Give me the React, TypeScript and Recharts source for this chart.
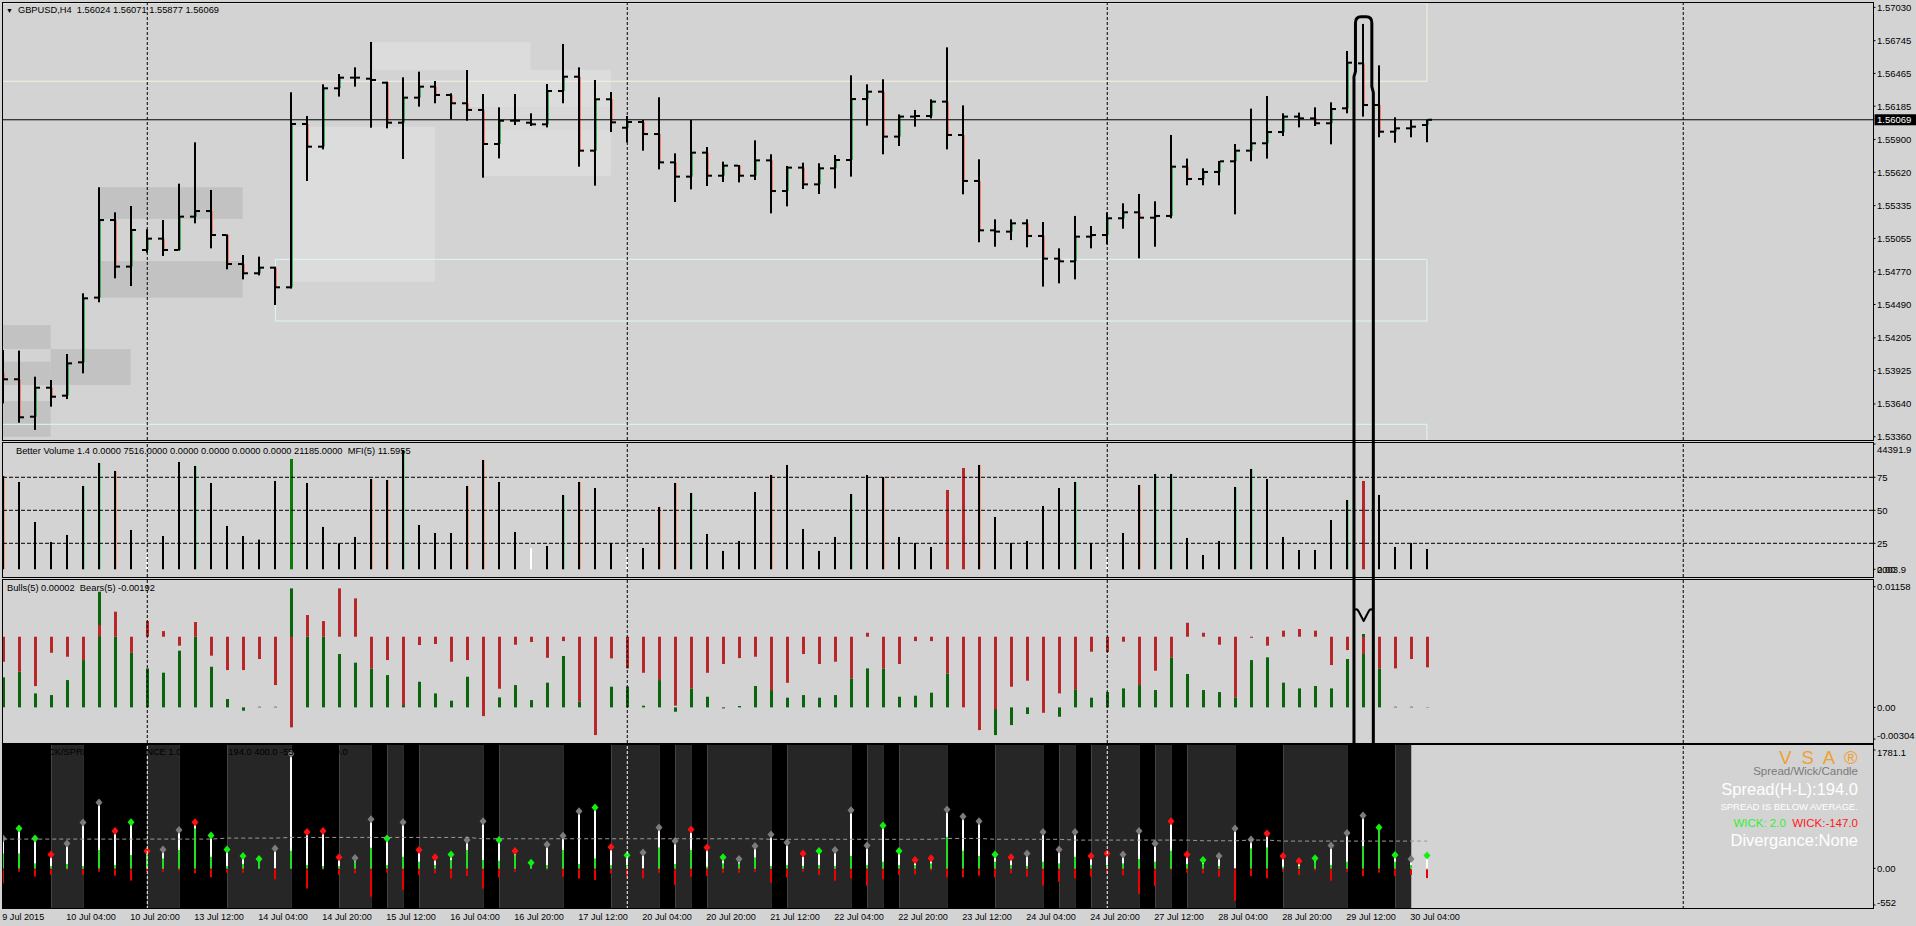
import React from 'react';
import { ComposedChart, Bar, Line, XAxis, YAxis, ReferenceLine, ReferenceArea } from 'recharts';

const FONT = "'Liberation Sans', Arial, sans-serif";
const BG = '#d3d3d3';

// ---------------- price (H4 bars) ----------------
const opens = [
  1.53902, 1.53851, 1.53531, 1.53779, 1.53711, 1.53996, 1.54549, 1.55212, 1.54814, 1.54956,
  1.55053, 1.54956, 1.55241, 1.55289, 1.55084, 1.54836, 1.54757, 1.54805, 1.54637, 1.56033,
  1.55839, 1.56338, 1.56429, 1.5642, 1.56386, 1.56044, 1.56258, 1.56352, 1.56281, 1.5621,
  1.56153, 1.55862, 1.56061, 1.56044, 1.5603, 1.56315, 1.56437, 1.55805, 1.56244, 1.56001,
  1.5605, 1.55947, 1.55705, 1.55583, 1.55788, 1.55591, 1.55677, 1.55591, 1.55722, 1.5546,
  1.5566, 1.55517, 1.55654, 1.55725, 1.56246, 1.56309, 1.55925, 1.56096, 1.56101, 1.56224,
  1.55939, 1.55546, 1.55124, 1.55113, 1.55184, 1.55076, 1.54882, 1.54859, 1.5507, 1.55084,
  1.55227, 1.55278, 1.55232, 1.55247, 1.55668, 1.55563, 1.55623, 1.55714, 1.55805, 1.55868,
  1.55964, 1.56096, 1.56081, 1.56039, 1.56167, 1.56551, 1.56195, 1.55967, 1.55996, 1.56024,
];
const highs = [
  1.54101, 1.54096, 1.53873, 1.53845, 1.54067, 1.54586, 1.55492, 1.55278, 1.55332, 1.55133,
  1.55212, 1.55523, 1.55876, 1.55469, 1.5509, 1.54913, 1.54899, 1.54814, 1.56304, 1.56101,
  1.56372, 1.5646, 1.56517, 1.56734, 1.56395, 1.56432, 1.5648, 1.564, 1.56295, 1.56494,
  1.56289, 1.56175, 1.56289, 1.56124, 1.56375, 1.56717, 1.56517, 1.56409, 1.56306, 1.56101,
  1.56067, 1.56261, 1.55782, 1.56067, 1.55836, 1.55711, 1.55682, 1.55893, 1.55774, 1.55674,
  1.55702, 1.55697, 1.55768, 1.56449, 1.56372, 1.56415, 1.56115, 1.56153, 1.56244, 1.56688,
  1.56192, 1.55731, 1.55218, 1.55218, 1.55218, 1.55195, 1.5497, 1.55247, 1.55161, 1.55278,
  1.55355, 1.55435, 1.55372, 1.55939, 1.55737, 1.55654, 1.55717, 1.55862, 1.56164, 1.56272,
  1.56124, 1.5613, 1.56175, 1.56218, 1.56657, 1.56888, 1.56534, 1.5609, 1.56067, 1.56071,
];
const lows = [
  1.53645, 1.5348, 1.53418, 1.53617, 1.53682, 1.53902, 1.54509, 1.54714, 1.54648, 1.54933,
  1.54905, 1.5495, 1.55184, 1.5497, 1.54791, 1.54705, 1.54739, 1.54486, 1.54626, 1.55546,
  1.55816, 1.56267, 1.56352, 1.56001, 1.55996, 1.55734, 1.56181, 1.5621, 1.56073, 1.56061,
  1.55574, 1.55739, 1.56024, 1.56016, 1.56004, 1.5621, 1.55668, 1.55506, 1.55964, 1.55876,
  1.55805, 1.55645, 1.55366, 1.55474, 1.55503, 1.55537, 1.55534, 1.55554, 1.55269, 1.55329,
  1.55477, 1.55435, 1.55483, 1.55583, 1.56019, 1.55774, 1.55845, 1.5601, 1.56081, 1.55816,
  1.55432, 1.55022, 1.54984, 1.55041, 1.54979, 1.54643, 1.54671, 1.54705, 1.5497, 1.55004,
  1.55138, 1.54885, 1.54984, 1.55227, 1.55509, 1.55509, 1.55509, 1.55261, 1.55714, 1.55737,
  1.5593, 1.56004, 1.56016, 1.55859, 1.56124, 1.56096, 1.55919, 1.55873, 1.55919, 1.55877,
];
const closes = [
  1.53851, 1.53526, 1.53779, 1.53702, 1.53987, 1.54543, 1.55212, 1.54814, 1.55127, 1.55053,
  1.54956, 1.55241, 1.55289, 1.55084, 1.54836, 1.54757, 1.54805, 1.54637, 1.56033, 1.55839,
  1.56338, 1.56429, 1.56429, 1.56409, 1.56044, 1.56258, 1.56352, 1.56281, 1.5621, 1.56153,
  1.55862, 1.56061, 1.56061, 1.5603, 1.56315, 1.56437, 1.55805, 1.56244, 1.56047, 1.5605,
  1.55947, 1.55705, 1.55583, 1.55788, 1.55591, 1.55677, 1.55591, 1.55722, 1.5546, 1.5566,
  1.55517, 1.55654, 1.55725, 1.56246, 1.56309, 1.55925, 1.56096, 1.56101, 1.56224, 1.55939,
  1.55546, 1.55124, 1.55113, 1.55184, 1.55076, 1.54882, 1.54859, 1.5507, 1.55084, 1.55227,
  1.55278, 1.55232, 1.55247, 1.55668, 1.55563, 1.55623, 1.55714, 1.55805, 1.55868, 1.55964,
  1.56096, 1.56081, 1.56039, 1.56161, 1.56557, 1.56195, 1.55967, 1.55996, 1.5601, 1.56069,
];
const priceTicks = [1.5703, 1.56745, 1.56465, 1.56185, 1.559, 1.5562, 1.55335, 1.55055, 1.5477, 1.5449, 1.54205, 1.53925, 1.5364, 1.5336];
const lastPrice = 1.56069;
const priceHeader = 'GBPUSD,H4  1.56024 1.56071 1.55877 1.56069';

// zones drawn on the price chart (bar index / price)
const zones = [
  { x1: 23.09, x2: 32.96, y1: 1.56494, y2: 1.56731, kind: 'light' },
  { x1: 28.86, x2: 37.98, y1: 1.56175, y2: 1.56494, kind: 'light' },
  { x1: 30.0, x2: 37.98, y1: 1.55981, y2: 1.56175, kind: 'faint' },
  { x1: 30.0, x2: 37.98, y1: 1.55591, y2: 1.55981, kind: 'light' },
  { x1: 18.03, x2: 26.98, y1: 1.54685, y2: 1.5601, kind: 'light' },
  { x1: 6.04, x2: 14.96, y1: 1.55221, y2: 1.55492, kind: 'dark' },
  { x1: 6.04, x2: 14.96, y1: 1.54548, y2: 1.54862, kind: 'dark' },
  { x1: -0.08, x2: 2.96, y1: 1.5411, y2: 1.54315, kind: 'dark' },
  { x1: 2.96, x2: 7.96, y1: 1.53802, y2: 1.5411, kind: 'dark' },
  { x1: -0.08, x2: 2.96, y1: 1.53802, y2: 1.54001, kind: 'dark' },
  { x1: -0.08, x2: 2.96, y1: 1.5336, y2: 1.53665, kind: 'dark' },
  { x1: -0.08, x2: 88.98, y1: 1.56398, y2: 1.57067, kind: 'cream' },
  { x1: 17.01, x2: 88.98, y1: 1.54349, y2: 1.54876, kind: 'cyan' },
  { x1: -0.08, x2: 88.98, y1: 1.532, y2: 1.53466, kind: 'cyan' },
];
const markBars = [84.42, 85.63];
const markTopPrice = 1.5695;
const markVRange = [0.00829, 0.00944];

// ---------------- Better Volume ----------------
const volumes = [
  33580, 31550, 18017, 11251, 13619, 30197, 37978, 35271, 15311, 7417,
  13281, 38316, 36963, 31211, 16664, 13281, 12041, 31888, 39331, 31211,
  16326, 10800, 12943, 32565, 32226, 42376, 17002, 14296, 14296, 30197,
  38993, 31550, 14634, 9109, 9898, 27152, 31550, 29520, 10913, 7191,
  9221, 23092, 31211, 27828, 13958, 8206, 11589, 28167, 33918, 37301,
  15649, 8206, 12943, 27490, 33918, 33241, 12943, 10913, 9560, 28843,
  36286, 37301, 19709, 10913, 11589, 23430, 29520, 31550, 10913, 6402,
  14296, 30535, 34256, 34256, 12604, 6853, 11589, 29858, 35948, 32565,
  12943, 8545, 8545, 18694, 25460, 31888, 27152, 9560, 10913, 8883,
];
const volumeKinds = [
  'ks', 'k', 'k', 'k', 'k', 'kg', 'kg', 'ks', 'k', 'w',
  'k', 'k', 'kg', 'k', 'k', 'k', 'k', 'k', 'g', 'k',
  'k', 'k', 'k', 'ks', 'ks', 'kg', 'k', 'k', 'k', 'ks',
  'ks', 'k', 'k', 'w', 'k', 'kg', 'ks', 'k', 'k', 'w',
  'k', 'ks', 'ks', 'kg', 'k', 'k', 'k', 'k', 'ks', 'k',
  'k', 'k', 'k', 'kg', 'k', 'ks', 'k', 'k', 'k', 'r',
  'r', 'ks', 'k', 'k', 'k', 'k', 'k', 'kg', 'k', 'w',
  'k', 'ks', 'kg', 'kg', 'k', 'k', 'k', 'kg', 'kg', 'k',
  'k', 'k', 'k', 'k', 'kg', 'r', 'k', 'k', 'k', 'k',
];
const volFloor = 2003.9;
const volCeil = 44391.9;
const mfiLevels = [25, 50, 75];
const volumeHeader = 'Better Volume 1.4 0.0000 7516.0000 0.0000 0.0000 0.0000 0.0000 21185.0000  MFI(5) 11.5955';

// ---------------- Bulls / Bears ----------------
const bulls = [
  0.00288, 0.00342, 0.00134, 0.00118, 0.00262, 0.00454, 0.0111, 0.00678, 0.00525, 0.00374,
  0.00333, 0.00544, 0.00678, 0.0039, 0.0008, -0.00032, 0.00006, 0.00006, 0.01142, 0.00678,
  0.00678, 0.00512, 0.00429, 0.00374, 0.0031, 0.00022, 0.00246, 0.00134, 0.00064, 0.00294,
  0.0, 0.00096, 0.00214, 0.0007, 0.00237, 0.00493, 0.00054, 0.0, 0.00198, 0.002,
  0.00016, 0.00262, -0.00042, 0.00182, 0.00102, -0.0001, 0.00013, 0.00205, 0.00166, 0.00093,
  0.00118, 0.00093, 0.00118, 0.00278, 0.00374, 0.00374, 0.00102, 0.00112, 0.00141, 0.00326,
  0.0, 0.0, -0.00266, -0.0017, -0.00064, 0.0, -0.0009, 0.00173, 0.00093, 0.00147,
  0.00182, 0.00214, 0.00166, 0.0048, 0.0032, 0.00166, 0.00147, 0.00096, 0.00454, 0.0048,
  0.00237, 0.00182, 0.00205, 0.00182, 0.00464, 0.00704, 0.00374, 0.00006, 0.00006, -0.00003,
];
const bears = [
  -0.0024, -0.00336, -0.00474, -0.00154, -0.00192, -0.00224, 0.00112, 0.0024, -0.00154, 0.0015,
  0.00054, -0.00086, 0.00141, -0.00182, -0.0032, -0.0032, -0.00214, -0.00464, -0.0087, 0.00208,
  0.0015, 0.00464, 0.00368, -0.00304, -0.00224, -0.00656, -0.0008, -0.0007, -0.0024, -0.00224,
  -0.00762, -0.00499, -0.00077, -0.00051, -0.00202, -0.00042, -0.00624, -0.00944, -0.00208, -0.00304,
  -0.00346, -0.00416, -0.00662, -0.00496, -0.00346, -0.00262, -0.00205, -0.00192, -0.00512, -0.00442,
  -0.00166, -0.00262, -0.0024, -0.004, 0.00038, -0.00304, -0.00262, -0.00042, -0.00042, -0.00352,
  -0.00678, -0.00896, -0.00698, -0.0048, -0.00422, -0.0073, -0.00544, -0.00506, -0.00144, -0.00147,
  -0.00048, -0.00464, -0.00326, -0.00198, 0.00134, 0.00038, -0.00077, -0.00582, -0.0001, -0.00086,
  0.00058, 0.00074, 0.00058, -0.00272, -0.00128, -0.00166, -0.00304, -0.00304, -0.00214, -0.00294,
];
const bearsBase = 0.00678;
const bullsTicks = [0.01158, 0, -0.00304];
const bullsHeader = 'Bulls(5) 0.00002  Bears(5) -0.00192';

// ---------------- VSA spread / wick ----------------
const spreads = [
  450, 600, 450, 210, 375, 690, 990, 560, 695, 260,
  285, 575, 695, 495, 285, 185, 140, 300, 1725, 545,
  560, 165, 155, 740, 450, 695, 275, 165, 210, 425,
  710, 425, 260, 85, 360, 490, 860, 915, 320, 195,
  240, 615, 410, 585, 315, 165, 140, 335, 510, 390,
  225, 260, 275, 875, 345, 645, 260, 125, 150, 885,
  780, 710, 210, 165, 225, 545, 285, 545, 185, 225,
  210, 560, 375, 710, 210, 125, 185, 600, 435, 525,
  185, 110, 150, 345, 530, 795, 615, 200, 140, 194,
];
const wickUp = [
  225, 225, 75, 35, 65, 35, 275, 50, 200, 200,
  150, 275, 600, 175, 35, 65, 100, 0, 265, 50,
  35, 35, 100, 310, 50, 175, 100, 50, 125, 275,
  125, 115, 200, 50, 50, 275, 65, 150, 50, 50,
  0, 315, 65, 275, 25, 75, 75, 165, 35, 50,
  35, 50, 35, 185, 50, 100, 50, 50, 75, 475,
  265, 185, 100, 50, 35, 100, 75, 175, 50, 50,
  75, 140, 100, 265, 65, 65, 35, 0, 300, 315,
  25, 35, 100, 50, 100, 335, 575, 100, 50, 2,
];
const wickDown = [
  -225, -50, -125, -100, -25, -100, -50, -110, -185, -50,
  -50, -35, -75, -135, -65, -65, -15, -165, -15, -305,
  -25, -100, -75, -425, -65, -325, -100, -75, -150, -115,
  -305, -135, -50, 0, -25, -125, -155, -175, -75, -125,
  -150, -65, -250, -125, -115, -65, -65, -50, -215, -135,
  -50, -100, -185, -150, -260, -165, -100, -90, -35, -135,
  -135, -110, -135, -75, -125, -260, -200, -150, -125, -75,
  -105, -385, -265, -25, -65, -75, -125, -485, -115, -150,
  -50, -100, -35, -185, -50, -115, -65, -115, -100, -147,
];
const diamondColors = [
  'n', 'g', 'g', 'r', 'n', 'n', 'n', 'r', 'g', 'r',
  'n', 'n', 'r', 'g', 'g', 'g', 'g', 'n', 'n', 'r',
  'r', 'r', 'n', 'n', 'g', 'n', 'r', 'r', 'g', 'n',
  'n', 'g', 'r', 'g', 'n', 'n', 'n', 'g', 'r', 'g',
  'n', 'n', 'n', 'r', 'r', 'g', 'n', 'n', 'n', 'n',
  'r', 'g', 'n', 'n', 'n', 'g', 'g', 'r', 'r', 'n',
  'n', 'n', 'g', 'r', 'n', 'n', 'n', 'n', 'r', 'r',
  'n', 'n', 'n', 'r', 'r', 'g', 'n', 'n', 'n', 'r',
  'r', 'r', 'g', 'n', 'n', 'n', 'g', 'g', 'n', 'g',
];
const avgSpread = [
  440, 440, 440, 440, 440, 440, 440, 440, 440, 440,
  440, 440, 440, 440, 455, 455, 455, 455, 465, 465,
  465, 465, 465, 465, 465, 465, 465, 465, 465, 465,
  445, 445, 445, 445, 445, 445, 445, 445, 445, 445,
  445, 445, 445, 445, 445, 445, 445, 445, 437, 437,
  437, 437, 437, 437, 437, 437, 437, 437, 437, 450,
  450, 450, 437, 437, 437, 437, 437, 425, 425, 425,
  425, 425, 425, 425, 425, 415, 415, 415, 425, 425,
  410, 410, 410, 410, 410, 410, 410, 410, 410, 410,
];
const vsaBandEdges = [-0.08, 3, 5, 9, 11, 14, 18, 21, 23, 24, 25, 26, 30, 31, 35, 38, 41, 42, 43, 44, 48, 49, 53, 54, 55, 56, 59, 62, 65, 66, 67, 68, 71, 72, 73, 74, 77, 80, 84, 87, 88];
const vsaTicks = [1781.1, 0, -552];
const vsaHeader = 'VSA WICK/SPREAD DIVERGENCE 1.0 2.0 -147.0 194.0 400.0 -552.0 0.0 159.0';

// ---------------- time axis ----------------
const dateTickBars = [0, 4, 8, 12, 16, 20, 24, 28, 32, 36, 40, 44, 48, 52, 56, 60, 64, 68, 72, 76, 80, 84, 88];
const dateLabels = [
  '9 Jul 2015', '10 Jul 04:00', '10 Jul 20:00', '13 Jul 12:00', '14 Jul 04:00', '14 Jul 20:00',
  '15 Jul 12:00', '16 Jul 04:00', '16 Jul 20:00', '17 Jul 12:00', '20 Jul 04:00', '20 Jul 20:00',
  '21 Jul 12:00', '22 Jul 04:00', '22 Jul 20:00', '23 Jul 12:00', '24 Jul 04:00', '24 Jul 20:00',
  '27 Jul 12:00', '28 Jul 04:00', '28 Jul 20:00', '29 Jul 12:00', '30 Jul 04:00',
];
const gridBars = [9, 39, 69, 105];

const X_DOMAIN: [number, number] = [-0.08, 116.86];

const rows = opens.map((o, i) => {
  const bb = bearsBase + bears[i];
  return {
    i,
    ohlc: [lows[i], highs[i]],
    o, h: highs[i], l: lows[i], c: closes[i],
    vol: [volFloor, volumes[i]],
    vk: volumeKinds[i],
    bb: [Math.min(0, bulls[i], bearsBase, bb), Math.max(0, bulls[i], bearsBase, bb)],
    bull: bulls[i], bear: bb,
    vsa: [wickDown[i], spreads[i]],
    sp: spreads[i], up: wickUp[i], dn: wickDown[i],
    dc: diamondColors[i],
    avg: avgSpread[i],
  };
});

// ---------------- shapes ----------------
const span = (p: any) => {
  const top = Math.min(p.y, p.y + p.height);
  const bot = Math.max(p.y, p.y + p.height);
  return { top, bot, cx: Math.round(p.x + p.width / 2) };
};

const OhlcShape = (p: any) => {
  if (p.x == null || !p.payload) return null;
  const { top, bot, cx } = span(p);
  const d = p.payload;
  const yOf = (v: number) => top + ((d.h - v) / (d.h - d.l)) * (bot - top);
  const yo = yOf(d.o);
  const yc = yOf(d.c);
  const body = d.c >= d.o ? '#3cae5c' : '#f5806c';
  return (
    <g>
      <rect x={cx - 1} y={top} width={2} height={Math.max(1, bot - top)} fill="#000" />
      <rect x={cx + 1} y={Math.min(yo, yc)} width={1} height={Math.abs(yc - yo)} fill={body} />
      <rect x={cx - 5} y={yo - 1} width={4} height={2} fill="#000" />
      <rect x={cx + 1} y={yc - 1} width={4} height={2} fill="#000" />
    </g>
  );
};

const VolShape = (p: any) => {
  if (p.x == null || !p.payload) return null;
  const { top, bot, cx } = span(p);
  const h = bot - top;
  const k = p.payload.vk;
  if (k === 'g') return <rect x={cx - 1} y={top} width={3} height={h} fill="#0b7a0b" />;
  if (k === 'r') return <rect x={cx - 1} y={top} width={3} height={h} fill="#b8262a" />;
  if (k === 'w') return <rect x={cx - 1} y={top} width={2} height={h} fill="#ffffff" />;
  return (
    <g>
      <rect x={cx - 1} y={top} width={2} height={h} fill="#000" />
      {k === 'ks' && <rect x={cx + 1} y={top} width={1} height={h} fill="#f4a07e" />}
      {k === 'kg' && <rect x={cx + 1} y={top} width={1} height={h} fill="#7fd69a" />}
    </g>
  );
};

const BullsShape = (p: any) => {
  if (p.x == null || !p.payload) return null;
  const { top, bot, cx } = span(p);
  const d = p.payload;
  const lo = d.bb[0];
  const hi = d.bb[1];
  const yOf = (v: number) => (hi === lo ? top : top + ((hi - v) / (hi - lo)) * (bot - top));
  const g0 = yOf(0), g1 = yOf(d.bull);
  const r0 = yOf(bearsBase), r1 = yOf(d.bear);
  return (
    <g>
      <rect x={cx - 1} y={Math.min(g0, g1)} width={3} height={Math.abs(g1 - g0)} fill="#0a650a" />
      <rect x={cx - 1} y={Math.min(r0, r1)} width={3} height={Math.abs(r1 - r0)} fill="#b8262a" />
    </g>
  );
};

const DIAMOND: Record<string, string> = { g: '#12f012', r: '#ff1010', n: '#7c7c7c' };
const VsaShape = (p: any) => {
  if (p.x == null || !p.payload) return null;
  const { top, bot, cx } = span(p);
  const d = p.payload;
  const yOf = (v: number) => top + ((d.sp - v) / (d.sp - d.dn)) * (bot - top);
  const y0 = yOf(0), yu = yOf(d.up), yd = yOf(d.dn);
  return (
    <g>
      <rect x={cx - 1} y={top} width={2} height={y0 - top} fill="#ffffff" />
      <rect x={cx - 1} y={yu} width={2} height={y0 - yu} fill="#22dd22" />
      <rect x={cx - 1} y={y0 + 1} width={2} height={Math.max(0, yd - y0 - 1)} fill="#ee0000" />
      <polygon points={`${cx},${top - 4} ${cx + 3.5},${top} ${cx},${top + 4} ${cx - 3.5},${top}`} fill={DIAMOND[d.dc]} />
    </g>
  );
};

const MarkMain = (p: any) => {
  const L = p.x, R = p.x + p.width, T = p.y, B = p.y + p.height + 4;
  const d = `M${L},${B} L${L},${T + 60} L${L + 1.5},${T + 55} L${L + 1.5},${T + 6} Q${L + 1.5},${T} ${L + 7},${T} L${R - 7},${T} Q${R - 1.5},${T} ${R - 1.5},${T + 6} L${R - 1.5},${T + 70} L${R},${T + 76} L${R},${B}`;
  return <path d={d} fill="none" stroke="#000" strokeWidth={3} strokeLinejoin="round" />;
};
const MarkLines = (p: any) => {
  const L = p.x, R = p.x + p.width, T = p.y - 4, B = p.y + p.height + 4;
  return <path d={`M${L},${T} L${L},${B} M${R},${T} L${R},${B}`} fill="none" stroke="#000" strokeWidth={3} />;
};
const MarkV = (p: any) => {
  const L = p.x + 2, R = p.x + p.width - 2, cx = p.x + p.width / 2, T = p.y, B = p.y + p.height;
  const d = `M${L - 1},${T + 1} Q${L + 1},${T - 1} ${L + 3},${T + 3} L${cx},${B} L${R - 3},${T + 3} Q${R - 1},${T - 1} ${R + 1},${T + 1}`;
  return <path d={d} fill="none" stroke="#000" strokeWidth={2} strokeLinejoin="round" />;
};

// ---------------- axis pieces ----------------
const makeTick = (fmt: (v: number) => string, nudge: (v: number) => number = () => 0) => (props: any) => {
  const { x, y, payload } = props;
  const v = payload.value;
  return (
    <g>
      <line x1={x} x2={x + 2.5} y1={y} y2={y} stroke="#000" />
      <text x={x + 4} y={y + nudge(v)} dy="0.35em" fontSize={9.5} fontFamily={FONT} fill="#000">{fmt(v)}</text>
    </g>
  );
};
const priceTick = makeTick((v) => v.toFixed(5));
const mfiTick = makeTick((v) => String(v));
const bullsTick = makeTick((v) => (v === 0 ? '0.00' : v.toFixed(5)), (v) => (v < 0 ? -3.5 : 0));
const vsaTick = makeTick((v) => (v === 0 ? '0.00' : v < 0 ? String(v) : v.toFixed(1)), (v) => (v > 0 ? 2.7 : v < 0 ? -2.3 : 0));

const SideLabel = (props: any) => {
  const vb = props.viewBox;
  if (!vb) return null;
  const x = vb.x + vb.width;
  const texts: string[] = props.texts;
  return (
    <g>
      <line x1={x} x2={x + 2.5} y1={vb.y} y2={vb.y} stroke="#000" />
      {texts.map((t) => (
        <text key={t} x={x + 4} y={vb.y + props.dy} dy="0.35em" fontSize={9.5} fontFamily={FONT} fill="#000">{t}</text>
      ))}
    </g>
  );
};

const PriceTag = (props: any) => {
  const vb = props.viewBox;
  if (!vb) return null;
  const x = vb.x + vb.width + 1.5;
  return (
    <g>
      <rect x={x} y={vb.y - 5.5} width={42} height={11} fill="#000" />
      <text x={x + 2.5} y={vb.y} dy="0.35em" fontSize={9.5} fontFamily={FONT} fill="#fff">{lastPrice.toFixed(5)}</text>
    </g>
  );
};

const DateTick = (props: any) => {
  const { x, y, payload } = props;
  const k = dateTickBars.indexOf(payload.value);
  return (
    <text x={x - 1} y={y + 8} dy="0.35em" fontSize={9.1} fontFamily={FONT} fill="#000">{dateLabels[k]}</text>
  );
};

const zoneStyle = (kind: string) => {
  if (kind === 'light') return { fill: '#dcdcdc', fillOpacity: 1, stroke: 'none' };
  if (kind === 'faint') return { fill: '#d8d8d8', fillOpacity: 1, stroke: 'none' };
  if (kind === 'dark') return { fill: '#c2c2c2', fillOpacity: 1, stroke: 'none' };
  if (kind === 'cream') return { fill: 'none', fillOpacity: 0, stroke: '#f6f1e2' };
  return { fill: 'none', fillOpacity: 0, stroke: '#dff7f7' };
};

const frame = (top: number, height: number) => (
  <div style={{ position: 'absolute', left: 2, top, width: 1872, height, border: '1px solid #000', boxSizing: 'border-box', pointerEvents: 'none' }} />
);

const textStyle = (left: number, top: number, size: number, color = '#000'): React.CSSProperties => ({
  position: 'absolute', left, top, fontSize: size, lineHeight: `${Math.round(size + 2)}px`, color, whiteSpace: 'pre', fontFamily: FONT,
});
const rightText = (right: number, top: number, size: number, color: string, extra: React.CSSProperties = {}): React.CSSProperties => ({
  position: 'absolute', right, top, fontSize: size, lineHeight: `${Math.round(size + 2)}px`, color, whiteSpace: 'pre', fontFamily: FONT, textAlign: 'right', ...extra,
});

export default function App() {
  return (
    <div style={{ position: 'absolute', left: 0, top: 0, width: 1916, height: 926, background: BG, overflow: 'hidden', fontFamily: FONT }}>
      {/* price */}
      <div style={{ position: 'absolute', left: 0, top: 0 }}>
        <ComposedChart width={1916} height={441} data={rows} margin={{ top: 3, right: 0, bottom: 1, left: 2 }}>
          <XAxis dataKey="i" type="number" domain={X_DOMAIN} allowDataOverflow hide />
          <YAxis orientation="right" width={43} type="number" domain={[1.53332, 1.57067]} allowDataOverflow ticks={priceTicks} interval={0} tick={priceTick} tickLine={false} axisLine={false} tickSize={0} tickMargin={0} />
          {zones.map((z, k) => (
            <ReferenceArea key={`z${k}`} x1={z.x1} x2={z.x2} y1={z.y1} y2={z.y2} ifOverflow="hidden" zIndex={50} {...zoneStyle(z.kind)} />
          ))}
          {gridBars.map((b) => (
            <ReferenceLine key={`g${b}`} x={b} stroke="#000" strokeDasharray="3 2" />
          ))}
          <ReferenceLine y={lastPrice} stroke="#000" label={<PriceTag />} />
          <Bar dataKey="ohlc" barSize={8} shape={OhlcShape} isAnimationActive={false} />
          <ReferenceArea x1={markBars[0]} x2={markBars[1]} y1={1.53332} y2={markTopPrice} ifOverflow="visible" shape={MarkMain} zIndex={1500} />
        </ComposedChart>
      </div>

      {/* volume */}
      <div style={{ position: 'absolute', left: 0, top: 440 }}>
        <ComposedChart width={1916} height={138} data={rows} margin={{ top: 3, right: 0, bottom: 1, left: 2 }}>
          <XAxis dataKey="i" type="number" domain={X_DOMAIN} allowDataOverflow hide />
          <YAxis orientation="right" width={43} type="number" domain={[-0.53, 100.98]} allowDataOverflow ticks={mfiLevels} interval={0} tick={mfiTick} tickLine={false} axisLine={false} tickSize={0} tickMargin={0} />
          <YAxis yAxisId="vol" type="number" domain={[-601, 44731]} allowDataOverflow hide />
          {mfiLevels.map((m) => (
            <ReferenceLine key={`m${m}`} y={m} stroke="#000" strokeDasharray="4 2" />
          ))}
          {gridBars.map((b) => (
            <ReferenceLine key={`g${b}`} x={b} stroke="#000" strokeDasharray="3 2" />
          ))}
          <ReferenceLine yAxisId="vol" y={volCeil} stroke="#000" strokeOpacity={0} label={<SideLabel texts={[volCeil.toFixed(1)]} dy={5.3} />} />
          <ReferenceLine yAxisId="vol" y={volFloor} stroke="#000" strokeOpacity={0} label={<SideLabel texts={['0.00', volFloor.toFixed(1)]} dy={0.7} />} />
          <Bar yAxisId="vol" dataKey="vol" barSize={8} shape={VolShape} isAnimationActive={false} />
          <ReferenceArea x1={markBars[0]} x2={markBars[1]} ifOverflow="visible" shape={MarkLines} zIndex={1500} />
        </ComposedChart>
      </div>

      {/* bulls / bears */}
      <div style={{ position: 'absolute', left: 0, top: 577 }}>
        <ComposedChart width={1916} height={167} data={rows} margin={{ top: 2, right: 0, bottom: 1, left: 2 }}>
          <XAxis dataKey="i" type="number" domain={X_DOMAIN} allowDataOverflow hide />
          <YAxis orientation="right" width={43} type="number" domain={[-0.00342, 0.01232]} allowDataOverflow ticks={bullsTicks} interval={0} tick={bullsTick} tickLine={false} axisLine={false} tickSize={0} tickMargin={0} />
          {gridBars.map((b) => (
            <ReferenceLine key={`g${b}`} x={b} stroke="#000" strokeDasharray="3 2" />
          ))}
          <Bar dataKey="bb" barSize={8} shape={BullsShape} isAnimationActive={false} />
          <ReferenceArea x1={markBars[0]} x2={markBars[1]} ifOverflow="visible" shape={MarkLines} zIndex={1500} />
          <ReferenceArea x1={markBars[0]} x2={markBars[1]} y1={markVRange[0]} y2={markVRange[1]} ifOverflow="visible" shape={MarkV} zIndex={1500} />
        </ComposedChart>
      </div>

      {/* VSA */}
      <div style={{ position: 'absolute', left: 0, top: 743 }}>
        <ComposedChart width={1916} height={183} data={rows} margin={{ top: 1, right: 0, bottom: 0, left: 2 }}>
          <XAxis dataKey="i" type="number" domain={X_DOMAIN} allowDataOverflow ticks={dateTickBars} interval={0} tick={DateTick} tickLine={false} axisLine={false} tickSize={0} tickMargin={0} height={17} />
          <YAxis orientation="right" width={43} type="number" domain={[-612, 1871]} allowDataOverflow ticks={vsaTicks} interval={0} tick={vsaTick} tickLine={false} axisLine={false} tickSize={0} tickMargin={0} />
          {vsaBandEdges.slice(0, -1).map((e, k) => (
            <ReferenceArea key={`b${k}`} x1={e} x2={vsaBandEdges[k + 1]} ifOverflow="visible" fill={k % 2 === 0 ? '#000000' : '#262626'} fillOpacity={1} stroke="none" zIndex={50} />
          ))}
          {gridBars.map((b) => (
            <ReferenceLine key={`g${b}`} x={b} stroke={b <= vsaBandEdges[vsaBandEdges.length - 1] ? '#ffffff' : '#000'} strokeDasharray="3 2" />
          ))}
          <Bar dataKey="vsa" barSize={8} shape={VsaShape} isAnimationActive={false} />
          <Line dataKey="avg" type="linear" stroke="#9a9a9a" strokeDasharray="4 3" strokeWidth={1} dot={false} activeDot={false} isAnimationActive={false} />
        </ComposedChart>
      </div>

      {frame(2, 439)}
      {frame(442, 136)}
      {frame(579, 165)}
      {frame(744, 165)}

      {/* panel captions */}
      <div style={textStyle(6, 5, 9.3)}>
        <span style={{ fontSize: 7, marginRight: 5 }}>▼</span>
        {priceHeader}
      </div>
      <div style={textStyle(16, 446, 9.3)}>{volumeHeader}</div>
      <div style={textStyle(7, 583, 9.3)}>{bullsHeader}</div>
      <div style={textStyle(16, 747, 9.3, '#000')}>{vsaHeader}</div>

      {/* VSA info block */}
      <div style={rightText(56, 747, 18.5, '#f0a030', { letterSpacing: 2.4 })}>V S A ®</div>
      <div style={rightText(58, 764, 11.5, '#7a7a7a')}>Spread/Wick/Candle</div>
      <div style={rightText(58, 780, 16.5, '#ffffff')}>Spread(H-L):194.0</div>
      <div style={rightText(58, 801, 9.5, '#ffffff')}>SPREAD IS BELOW AVERAGE.</div>
      <div style={rightText(58, 816, 11.5, '#ffffff')}>
        <span style={{ color: '#33ee33' }}>WICK: 2.0</span>
        <span style={{ color: '#ff1a1a' }}>  WICK:-147.0</span>
      </div>
      <div style={rightText(58, 831, 16.5, '#ffffff')}>Divergance:None</div>
    </div>
  );
}
